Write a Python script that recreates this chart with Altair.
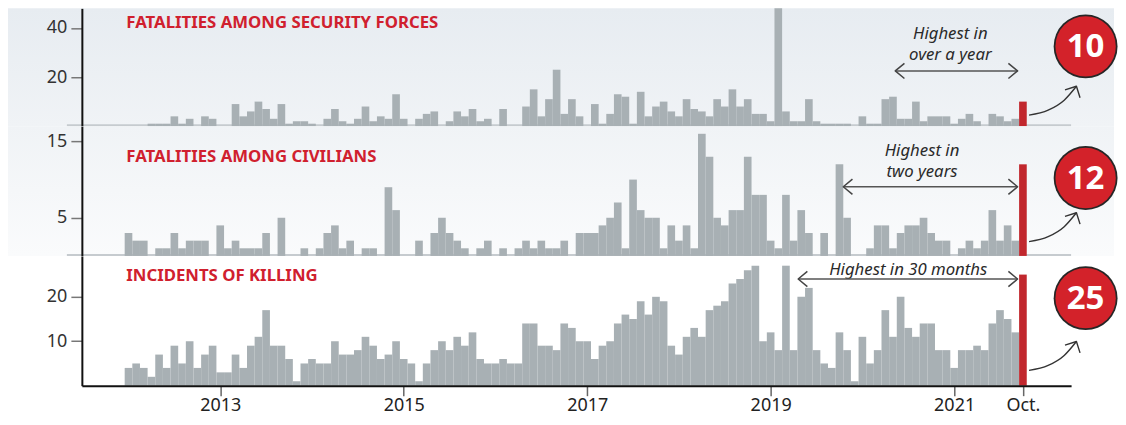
import altair as alt
import pandas as pd

# ---------------- data (monthly, Jan 2012 .. Oct 2021) ----------------
security = [0, 0, 0, 1, 1, 1, 4, 1, 3, 0, 4, 3,
            0, 0, 9, 4, 6, 10, 7, 3, 9, 1, 2, 2,
            1, 0, 3, 7, 2, 1, 3, 8, 2, 4, 3, 13,
            3, 0, 3, 5, 6, 0, 2, 6, 4, 7, 2, 3,
            0, 7, 0, 0, 8, 15, 4, 11, 23, 5, 11, 4,
            0, 9, 1, 5, 13, 12, 1, 14, 4, 8, 10, 6,
            4, 11, 7, 6, 4, 11, 8, 15, 8, 11, 5, 5,
            2, 48, 6, 2, 2, 11, 2, 1, 1, 1, 1, 0,
            4, 1, 1, 11, 12, 3, 3, 10, 2, 4, 4, 4,
            1, 3, 5, 2, 0, 5, 4, 2, 3, 10]
civilians = [3, 2, 2, 0, 1, 1, 3, 1, 2, 2, 2, 0,
             4, 1, 2, 1, 1, 1, 3, 0, 5, 0, 0, 1,
             0, 1, 3, 4, 1, 2, 0, 1, 1, 0, 9, 6,
             0, 0, 2, 0, 3, 5, 3, 2, 1, 0, 1, 2,
             0, 1, 0, 1, 2, 1, 2, 1, 1, 2, 0, 3,
             3, 3, 4, 5, 7, 1, 10, 6, 5, 5, 1, 4,
             2, 4, 1, 16, 13, 5, 4, 6, 6, 13, 8, 8,
             2, 1, 8, 2, 6, 3, 0, 3, 0, 12, 5, 0,
             0, 1, 4, 4, 1, 3, 4, 4, 5, 3, 2, 2,
             0, 1, 2, 1, 2, 6, 2, 4, 2, 12]
incidents = [4, 5, 4, 2, 7, 4, 9, 5, 10, 4, 7, 9,
             3, 3, 7, 4, 9, 11, 17, 9, 9, 6, 1, 5,
             6, 5, 5, 10, 7, 7, 8, 11, 9, 6, 7, 10,
             6, 5, 1, 5, 8, 10, 8, 11, 9, 12, 6, 5,
             5, 6, 5, 5, 14, 14, 9, 9, 8, 14, 13, 10,
             10, 6, 9, 10, 14, 16, 15, 19, 16, 20, 19, 9,
             7, 11, 13, 11, 17, 18, 19, 23, 24, 26, 27, 10,
             12, 8, 27, 8, 20, 22, 8, 5, 4, 12, 8, 1,
             11, 5, 8, 17, 11, 20, 13, 11, 14, 14, 8, 8,
             4, 8, 8, 9, 8, 14, 17, 15, 12, 25]

tick_pos = [12.5, 36.5, 60.5, 84.5, 108.5, 117.5]
tick_text = ["2013", "2015", "2017", "2019", "2021", "Oct."]

titles = ["FATALITIES AMONG SECURITY FORCES", "FATALITIES AMONG CIVILIANS",
          "INCIDENTS OF KILLING"]
y_domains = [[0, 48], [0, 17], [0, 29.2]]
y_ticks = [[20, 40], [5, 15], [10, 20]]
callout_numbers = ["10", "12", "25"]

note_lines = [["Highest in", "over a year"], ["Highest in", "two years"],
              ["Highest in 30 months"]]
note_x = [108.0, 104.3, 102.5]
note_y = [[35.4, 26.9], [13.15, 10.4], [24.8]]
span_start = [100.8, 94.0, 88.1]
span_end = [116.8, 116.8, 116.8]
span_y = [22.5, 9.06, 24.0]
circle_x = 125.7
circle_y = [32.5, 10.2, 19.7]
curve_x = [118.3, 120.8, 122.9, 124.5]
curve_y = [[4.47, 6.51, 10.58, 16.27], [1.87, 2.52, 3.83, 5.66],
           [3.44, 4.56, 6.81, 9.95]]

# ---------------- style ----------------
FONT = "Noto Sans"
GRAY = "#a8b0b4"
RED_BAR = "#c1272d"
RED_TXT = "#d0202e"
CIRCLE = "#d3222a"
W = 991
HEIGHTS = [118, 130, 130]
TITLE_Y = [15, 31, 20]
BG = [("#e7ecf1", "#f0f3f6"), ("#f0f3f6", "#fafbfc"), ("#ffffff", "#ffffff")]
X_DOMAIN = [-5.6, 123.8]

LEFT_CHEV = "M1.15,-0.95 L0,0 L1.15,0.95"
RIGHT_CHEV = "M-1.15,-0.95 L0,0 L-1.15,0.95"
HEAD = "M-1,-1 L0,0 L-1,1"

label_expr = ""
for p, t in zip(tick_pos, tick_text):
    label_expr += f"datum.value == {p} ? '{t}' : "
label_expr += "''"


def panel(k, values, show_x):
    h = HEIGHTS[k]
    xs = alt.Scale(domain=X_DOMAIN, nice=False, zero=False)
    ys = alt.Scale(domain=y_domains[k], nice=False, zero=False)

    n = len(values)
    bars_df = pd.DataFrame({
        "x0": list(range(n)),
        "x1": [i + 1 for i in range(n)],
        "v": values,
        "kind": ["n"] * (n - 1) + ["last"],
    })

    if show_x:
        xaxis = alt.Axis(values=tick_pos, labelExpr=label_expr, title=None, grid=False,
                         domainColor="#111", domainWidth=2, tickColor="#666",
                         tickWidth=1.5, tickSize=10, labelFont=FONT, labelFontSize=18,
                         labelColor="#222", labelPadding=1, zindex=1)
    else:
        xaxis = None
    yaxis = alt.Axis(values=y_ticks[k], orient="left", title=None, grid=False,
                     domainColor="#111", domainWidth=2, tickColor="#777", tickWidth=1.5,
                     tickSize=11, labelFont=FONT, labelFontSize=18, labelColor="#333",
                     labelPadding=4, zindex=1)

    def X(f):
        return alt.X(f, scale=xs, axis=xaxis)

    def Y(f):
        return alt.Y(f, scale=ys, axis=yaxis)

    one = pd.DataFrame({"a": [0]})
    grad = alt.LinearGradient(
        gradient="linear",
        stops=[alt.GradientStop(color=BG[k][0], offset=0),
               alt.GradientStop(color=BG[k][1], offset=1)],
        x1=0, x2=0, y1=0, y2=1)
    layers = []
    layers.append(alt.Chart(one).mark_rect(fill=grad).encode(
        x=alt.value(-74), x2=alt.value(W + 43), y=alt.value(0), y2=alt.value(h)))
    if not show_x:
        layers.append(alt.Chart(one).mark_rule(color="#c6cbcf", strokeWidth=2).encode(
            x=alt.value(-15), x2=alt.value(W), y=alt.value(h - 1)))

    layers.append(alt.Chart(bars_df).mark_rect().encode(
        x=X("x0:Q"),
        x2="x1:Q",
        y=Y("v:Q"),
        y2=alt.datum(0),
        color=alt.Color("kind:N", scale=alt.Scale(domain=["n", "last"],
                                                  range=[GRAY, RED_BAR]), legend=None),
    ))

    layers.append(alt.Chart(one).mark_text(
        align="left", baseline="middle", font=FONT, fontSize=16.8, fontWeight="bold",
        color=RED_TXT).encode(x=alt.value(44.5), y=alt.value(TITLE_Y[k]),
                              text=alt.value(titles[k])))

    notes_df = pd.DataFrame({"x": [note_x[k]] * len(note_lines[k]),
                             "y": note_y[k], "t": note_lines[k]})
    layers.append(alt.Chart(notes_df).mark_text(
        align="center", baseline="alphabetic", font=FONT, fontSize=16.8,
        fontStyle="italic", color="#2a2a2a").encode(
        x=X("x:Q"), y=Y("y:Q"), text="t:N"))

    span_df = pd.DataFrame({"x": [span_start[k]], "x2": [span_end[k]], "y": [span_y[k]]})
    layers.append(alt.Chart(span_df).mark_rule(color="#555", strokeWidth=1.5).encode(
        x=X("x:Q"), x2="x2:Q", y=Y("y:Q")))
    layers.append(alt.Chart(span_df).mark_point(
        shape=LEFT_CHEV, filled=False, size=256, color="#444", strokeWidth=1.5,
        strokeJoin="round", opacity=1).encode(x=X("x:Q"), y=Y("y:Q")))
    layers.append(alt.Chart(span_df).mark_point(
        shape=RIGHT_CHEV, filled=False, size=256, color="#444", strokeWidth=1.5,
        strokeJoin="round", opacity=1).encode(x=X("x2:Q"), y=Y("y:Q")))

    curve_df = pd.DataFrame({"x": curve_x, "y": curve_y[k]})
    layers.append(alt.Chart(curve_df).mark_line(
        interpolate="monotone", color="#333", strokeWidth=1.4).encode(
        x=X("x:Q"), y=Y("y:Q")))
    head_df = curve_df.tail(1)
    layers.append(alt.Chart(head_df).mark_point(
        shape=HEAD, filled=False, size=289, angle=297.5, color="#333",
        strokeWidth=1.4, strokeJoin="round", opacity=1).encode(x=X("x:Q"), y=Y("y:Q")))

    circ_df = pd.DataFrame({"x": [circle_x], "y": [circle_y[k]], "t": [callout_numbers[k]]})
    # dark ring (drawn as a larger filled disc) and the red disc on top of it
    layers.append(alt.Chart(circ_df).mark_point(
        shape="circle", filled=True, size=4096, color="#262626", strokeWidth=0,
        opacity=1).encode(x=X("x:Q"), y=Y("y:Q")))
    layers.append(alt.Chart(circ_df).mark_point(
        shape="circle", filled=True, size=3660, color=CIRCLE, strokeWidth=0,
        opacity=1).encode(x=X("x:Q"), y=Y("y:Q")))
    layers.append(alt.Chart(circ_df).mark_text(
        align="center", baseline="middle", font=FONT, fontSize=33, fontWeight="bold",
        color="white", dy=1).encode(x=X("x:Q"), y=Y("y:Q"), text="t:N"))

    return alt.layer(*layers).properties(width=W, height=h)


chart = alt.vconcat(
    panel(0, security, False),
    panel(1, civilians, False),
    panel(2, incidents, True),
    spacing=0,
    bounds="flush",
).properties(
    padding={"left": 0, "top": 0, "right": 0, "bottom": 0}
).configure_view(stroke=None)

chart.save("out.html", embed_options={"renderer": "svg", "actions": False})
